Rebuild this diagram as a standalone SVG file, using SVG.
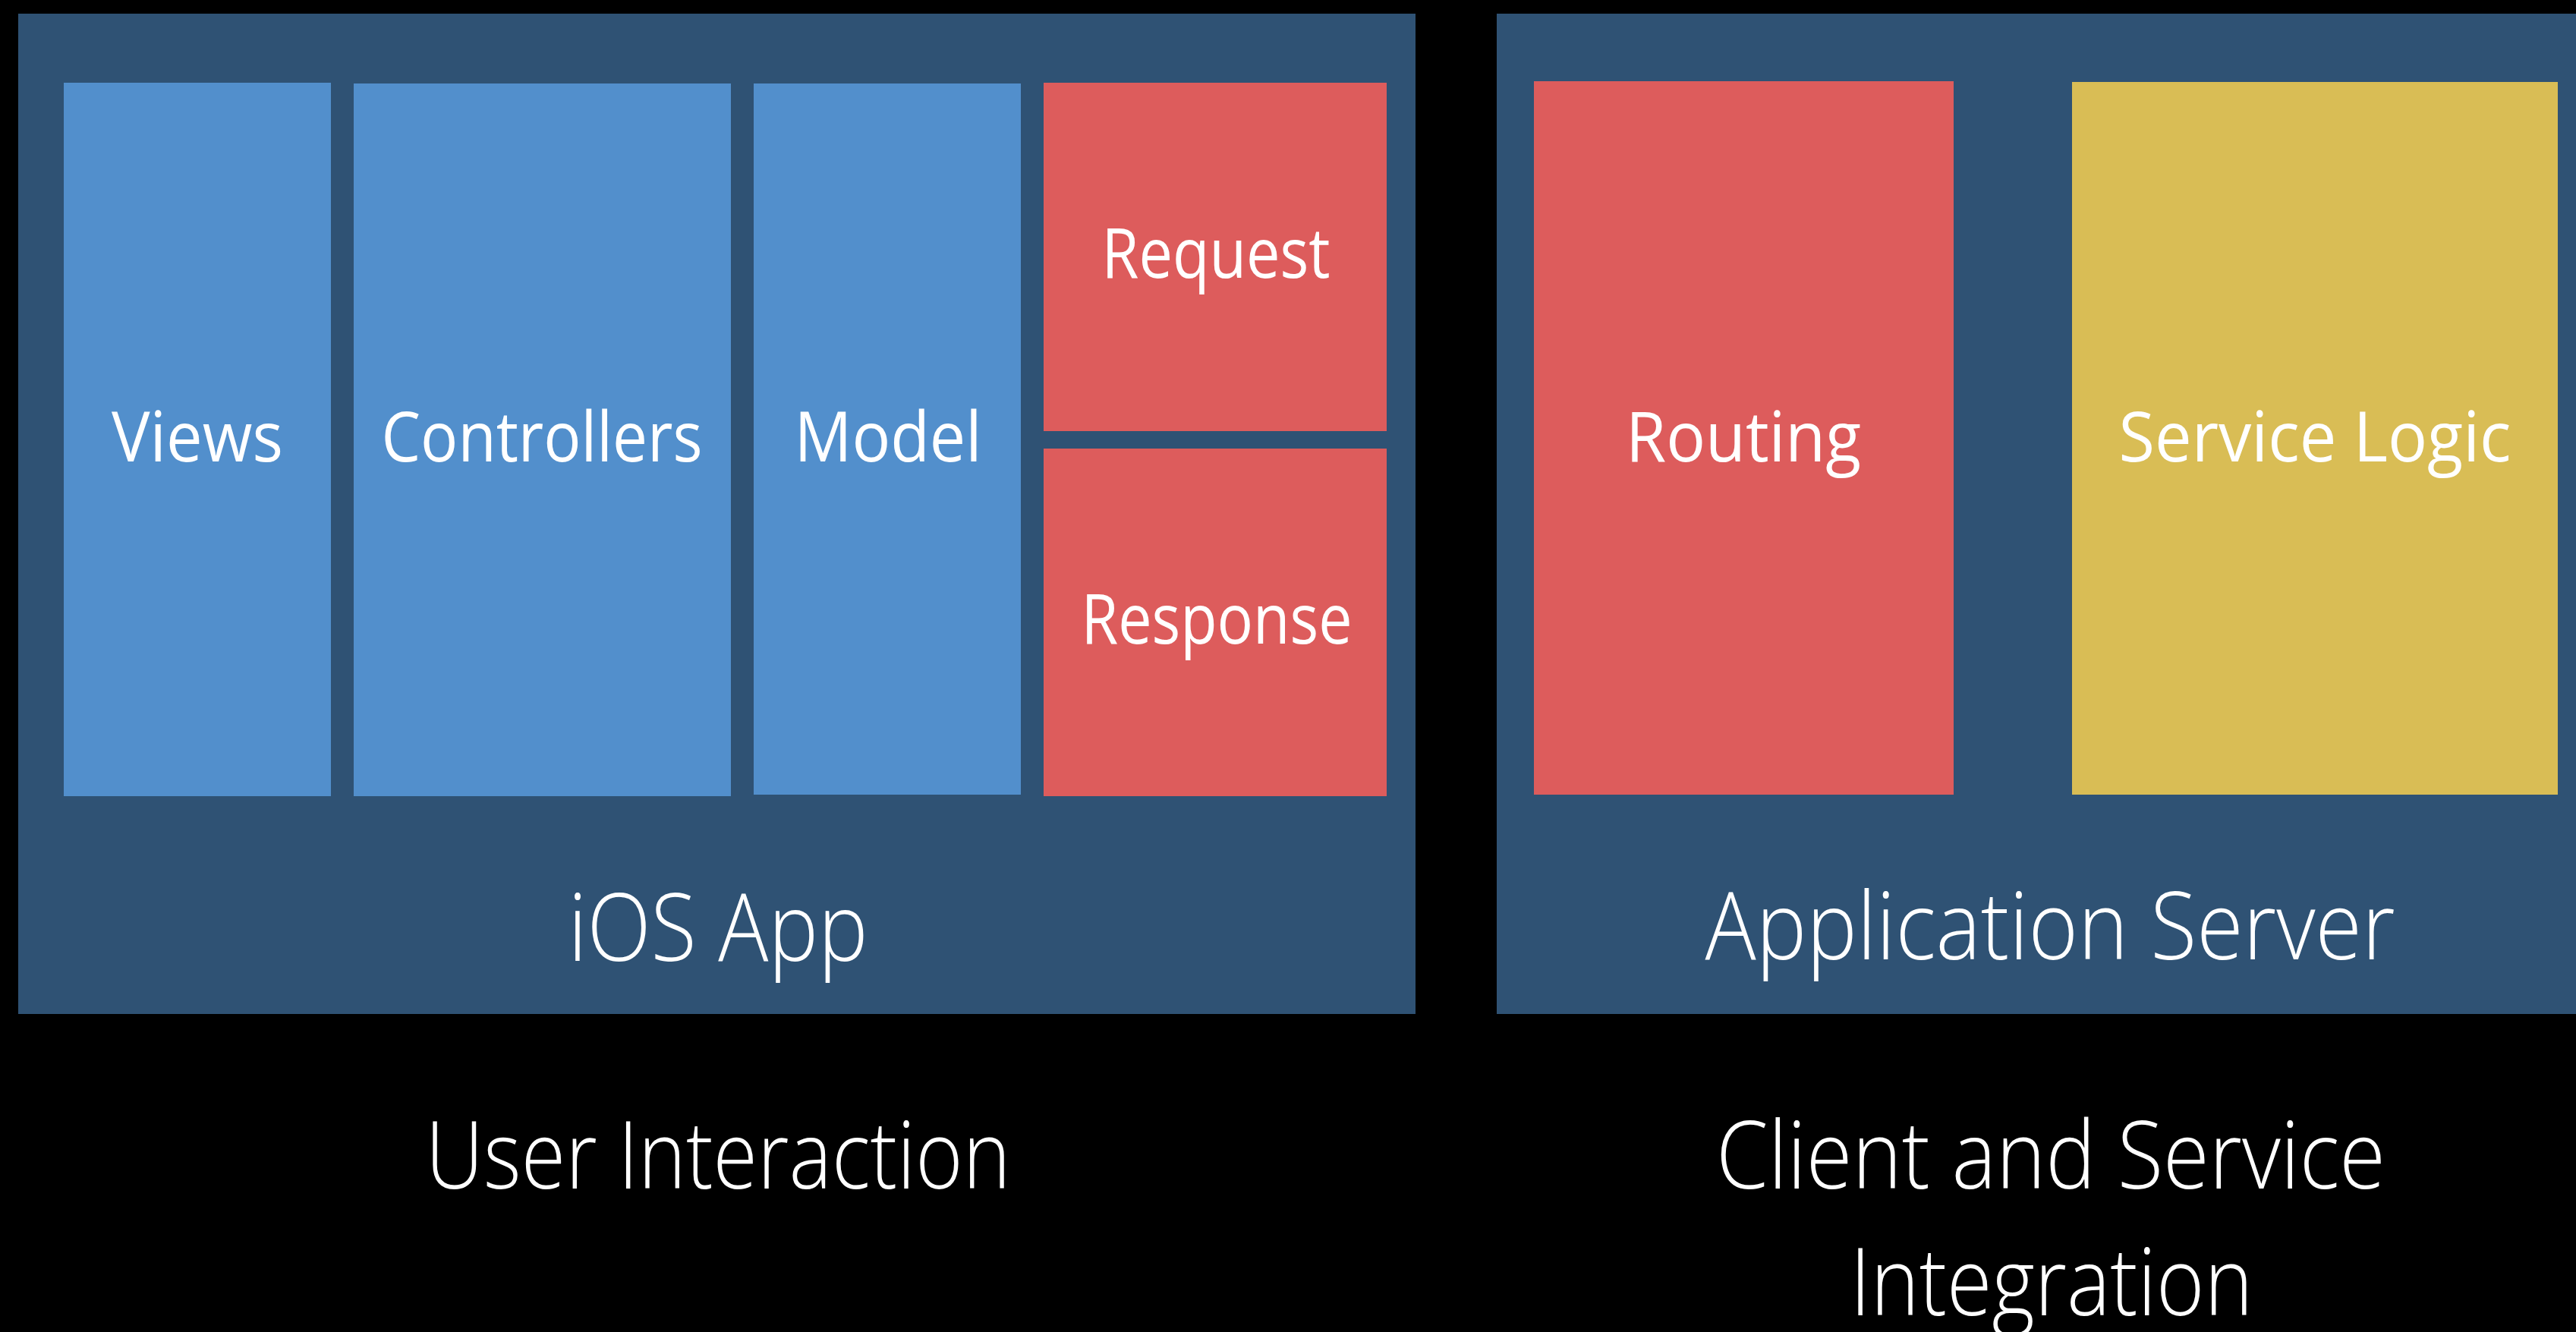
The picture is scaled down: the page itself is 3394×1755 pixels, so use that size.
<svg xmlns="http://www.w3.org/2000/svg" width="3394" height="1755" viewBox="0 0 3394 1755">
  <style>
    .panel { fill: #2F5274; }
    .blue { fill: #528FCC; }
    .red { fill: #DD5C5C; }
    .yellow { fill: #D9BD55; }
    .lbl { font-family: "Open Sans", "Noto Sans", "Liberation Sans", sans-serif; font-size: 91px; font-weight: 400; fill: #FFFFFF; text-anchor: middle; }
    .thin { font-family: "Open Sans", "Noto Sans", "Liberation Sans", sans-serif; font-size: 123px; font-weight: 300; fill: #FFFFFF; text-anchor: middle; }
  </style>
  <rect x="0" y="0" width="3394" height="1755" fill="#000000"/>

  <g id="ios-app">
    <rect class="panel" x="24" y="18" width="1841" height="1318"/>
    <text class="thin" x="946" y="1266" textLength="395" lengthAdjust="spacingAndGlyphs">iOS App</text>
  </g>
  <g id="views">
    <rect class="blue" x="84" y="109" width="352" height="940"/>
    <text class="lbl" x="260" y="608" textLength="226" lengthAdjust="spacingAndGlyphs">Views</text>
  </g>
  <g id="controllers">
    <rect class="blue" x="466" y="110" width="497" height="939"/>
    <text class="lbl" x="714" y="608" textLength="423" lengthAdjust="spacingAndGlyphs">Controllers</text>
  </g>
  <g id="model">
    <rect class="blue" x="993" y="110" width="352" height="937"/>
    <text class="lbl" x="1170" y="608" textLength="247" lengthAdjust="spacingAndGlyphs">Model</text>
  </g>
  <g id="request">
    <rect class="red" x="1375" y="109" width="452" height="459"/>
    <text class="lbl" x="1602" y="366" textLength="301" lengthAdjust="spacingAndGlyphs">Request</text>
  </g>
  <g id="response">
    <rect class="red" x="1375" y="591" width="452" height="458"/>
    <text class="lbl" x="1603" y="848" textLength="357" lengthAdjust="spacingAndGlyphs">Response</text>
  </g>

  <g id="application-server">
    <rect class="panel" x="1972" y="18" width="1422" height="1318"/>
    <text class="thin" x="2701" y="1264" textLength="909" lengthAdjust="spacingAndGlyphs">Application Server</text>
  </g>
  <g id="routing">
    <rect class="red" x="2021" y="107" width="553" height="940"/>
    <text class="lbl" x="2297" y="608" textLength="310" lengthAdjust="spacingAndGlyphs">Routing</text>
  </g>
  <g id="service-logic">
    <rect class="yellow" x="2730" y="108" width="640" height="939"/>
    <text class="lbl" x="3050" y="608" textLength="517" lengthAdjust="spacingAndGlyphs">Service Logic</text>
  </g>

  <g id="caption-user-interaction">
    <text class="thin" x="946" y="1566" textLength="771" lengthAdjust="spacingAndGlyphs">User Interaction</text>
  </g>
  <g id="caption-client-service">
    <text class="thin" x="2702" y="1566" textLength="882" lengthAdjust="spacingAndGlyphs">Client and Service</text>
    <text class="thin" x="2703" y="1733" textLength="531" lengthAdjust="spacingAndGlyphs">Integration</text>
  </g>
</svg>
